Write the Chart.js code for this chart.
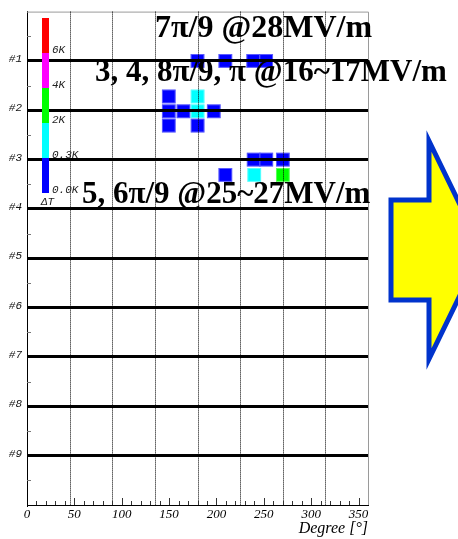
<!DOCTYPE html>
<html>
<head>
<meta charset="utf-8">
<script src="https://cdn.jsdelivr.net/npm/chart.js@4.4.1/dist/chart.umd.min.js"></script>
<style>
    html, body { margin: 0; padding: 0; background: #ffffff; }
    #box { width: 458px; height: 539px; }
</style>
</head>
<body>
<div id="box"><canvas id="chartMapa"></canvas></div>
<script>
// dados
var cellDeg   = [180, 209.4, 238.8, 252.5,
                 149.7, 149.7, 165.2, 149.7, 180.1, 180.1, 180.1, 197.2,
                 239.3, 252.6, 270.1, 209.4, 239.9, 270.1];
var cellRow   = [1.0, 1.0, 1.0, 1.0,
                 1.72, 2.02, 2.02, 2.31, 1.72, 2.02, 2.31, 2.02,
                 3.0, 3.0, 3.0, 3.31, 3.31, 3.31];
// nivel de temperatura: 0 = 0.0K, 1 = 0.3K, 2 = 2K, 3 = 4K, 4 = 6K
var cellLevel = [0, 0, 0, 0,
                 0, 0, 0, 0, 1, 1, 0, 0,
                 0, 0, 0, 0, 1, 2];

var xTicks = [0, 50, 100, 150, 200, 250, 300, 350];
var yTicks = [1, 2, 3, 4, 5, 6, 7, 8, 9];
var yLabels = ["#1", "#2", "#3", "#4", "#5", "#6", "#7", "#8", "#9"];
var barLabels = ["0.0K", "0.3K", "2K", "4K", "6K"];
var notas = ["7\u03c0/9 @28MV/m", "3, 4, 8\u03c0/9, \u03c0 @16~17MV/m", "5, 6\u03c0/9 @25~27MV/m"];

var cores = ["#0000ff", "#00ffff", "#00ff00", "#ff00ff", "#ff0000"];
var larguraCelula = 14.5;  // graus
var alturaCelula = 0.28;   // unidades do eixo y

// desenha as celulas antes da grade (as linhas grossas ficam por cima)
var pluginCelulas = {
    id: "celulas",
    beforeDraw: function (chart) {
        var ctx = chart.ctx;
        var x = chart.scales.x, y = chart.scales.y;
        ctx.save();
        for (var i = 0; i < cellDeg.length; i++) {
            var x0 = x.getPixelForValue(cellDeg[i] - larguraCelula / 2);
            var x1 = x.getPixelForValue(cellDeg[i] + larguraCelula / 2);
            var y0 = y.getPixelForValue(cellRow[i] - alturaCelula / 2);
            var y1 = y.getPixelForValue(cellRow[i] + alturaCelula / 2);
            ctx.fillStyle = cores[cellLevel[i]];
            ctx.fillRect(x0, y0, x1 - x0, y1 - y0);
            ctx.strokeStyle = "rgba(255,255,255,0.35)";
            ctx.lineWidth = 1;
            ctx.strokeRect(x0 + 0.5, y0 + 0.5, x1 - x0 - 1, y1 - y0 - 1);
        }
        ctx.restore();
    }
};

// grade pontilhada, ticks internos, escala de cores, textos e a seta
var pluginExtras = {
    id: "extras",
    afterDraw: function (chart) {
        var ctx = chart.ctx;
        var a = chart.chartArea;
        var x = chart.scales.x, y = chart.scales.y;
        ctx.save();

        // moldura cinza em cima e a direita
        ctx.strokeStyle = "#9a9a9a";
        ctx.lineWidth = 1;
        ctx.beginPath();
        ctx.moveTo(a.left, a.top + 0.5);
        ctx.lineTo(a.right + 0.5, a.top + 0.5);
        ctx.lineTo(a.right + 0.5, a.bottom);
        ctx.stroke();

        // linhas pontilhadas a cada 45 graus
        ctx.strokeStyle = "#000000";
        ctx.setLineDash([1, 1]);
        for (var g = 45; g < 360; g += 45) {
            var px = Math.round(x.getPixelForValue(g)) + 0.5;
            ctx.beginPath();
            ctx.moveTo(px, a.top);
            ctx.lineTo(px, a.bottom);
            ctx.stroke();
        }
        ctx.setLineDash([]);

        // ticks do eixo x para dentro
        ctx.strokeStyle = "#333333";
        for (var t = 10; t < 360; t += 10) {
            var tx = Math.round(x.getPixelForValue(t)) + 0.5;
            var len = (t % 50 === 0) ? 7 : 4;
            ctx.beginPath();
            ctx.moveTo(tx, a.bottom);
            ctx.lineTo(tx, a.bottom - len);
            ctx.stroke();
        }
        // ticks menores do eixo y
        ctx.strokeStyle = "#777777";
        for (var m = 0.5; m < 10; m += 1) {
            var ty = Math.round(y.getPixelForValue(m)) + 0.5;
            ctx.beginPath();
            ctx.moveTo(a.left, ty);
            ctx.lineTo(a.left + 4, ty);
            ctx.stroke();
        }

        // escala de cores (delta T)
        var bx = a.left + 15, bw = 7, bTop = 18, segH = 35;
        for (var k = 0; k < cores.length; k++) {
            var sy = bTop + segH * (cores.length - 1 - k);
            ctx.fillStyle = cores[k];
            ctx.fillRect(bx, sy, bw, segH);
            ctx.fillStyle = "#222222";
            ctx.font = "italic 11px 'Liberation Mono'";
            ctx.textAlign = "left";
            ctx.textBaseline = "alphabetic";
            ctx.fillText(barLabels[k], bx + bw + 3, sy + segH);
        }
        ctx.fillStyle = "#222222";
        ctx.font = "italic 11px 'Liberation Mono'";
        ctx.fillText("\u0394T", bx - 1, bTop + segH * 5 + 12);

        // textos
        ctx.fillStyle = "#000000";
        ctx.textAlign = "left";
        ctx.textBaseline = "alphabetic";
        ctx.font = "bold 32px 'Liberation Serif'";
        ctx.fillText(notas[0], 155, 37);
        ctx.font = "bold 31px 'Liberation Serif'";
        ctx.fillText(notas[1], 95, 81);
        ctx.fillText(notas[2], 82, 203);

        // seta amarela
        ctx.beginPath();
        ctx.moveTo(391, 200);
        ctx.lineTo(429, 200);
        ctx.lineTo(429, 141);
        ctx.lineTo(482, 250);
        ctx.lineTo(429, 359);
        ctx.lineTo(429, 300);
        ctx.lineTo(391, 300);
        ctx.closePath();
        ctx.fillStyle = "#ffff00";
        ctx.fill();
        ctx.lineWidth = 5;
        ctx.lineJoin = "miter";
        ctx.strokeStyle = "#0033cc";
        ctx.stroke();

        ctx.restore();
    }
};

var config = {
    type: "scatter",
    data: {
        datasets: [
            {
                label: "celulas",
                data: [],
                showLine: false
            }
        ]
    },
    options: {
        responsive: true,
        maintainAspectRatio: false,
        animation: false,
        events: [],
        layout: {
            padding: { left: 0, right: 90, top: 8, bottom: 0 }
        },
        plugins: {
            legend: { display: false },
            tooltip: { enabled: false }
        },
        scales: {
            x: {
                type: "linear",
                min: 0,
                max: 360,
                afterBuildTicks: function (scale) {
                    scale.ticks = xTicks.map(function (v) { return { value: v }; });
                },
                afterFit: function (scale) { scale.height = 34; },
                ticks: {
                    color: "#000000",
                    padding: 2,
                    maxRotation: 0,
                    autoSkip: false,
                    font: { family: "'Liberation Serif'", style: "italic", size: 13 }
                },
                grid: { display: false, drawTicks: false },
                border: { display: true, color: "#000000", width: 1 },
                title: {
                    display: true,
                    text: "Degree [\u00b0]",
                    align: "end",
                    color: "#000000",
                    padding: { top: 0, bottom: 1 },
                    font: { family: "'Liberation Serif'", style: "italic", size: 16 }
                }
            },
            y: {
                type: "linear",
                min: 0,
                max: 10,
                reverse: true,
                afterBuildTicks: function (scale) {
                    scale.ticks = yTicks.map(function (v) { return { value: v }; });
                },
                afterFit: function (scale) { scale.width = 27; },
                ticks: {
                    color: "#111111",
                    padding: 5,
                    labelOffset: -2,
                    autoSkip: false,
                    font: { family: "'Liberation Mono'", style: "italic", size: 11 },
                    callback: function (v) {
                        var i = yTicks.indexOf(v);
                        return i >= 0 ? yLabels[i] : "";
                    }
                },
                grid: {
                    drawTicks: false,
                    color: "#000000",
                    lineWidth: 3
                },
                border: { display: true, color: "#000000", width: 1 }
            }
        }
    },
    plugins: [pluginCelulas, pluginExtras]
};

var myChart = new Chart(document.getElementById("chartMapa"), config);
</script>
</body>
</html>
